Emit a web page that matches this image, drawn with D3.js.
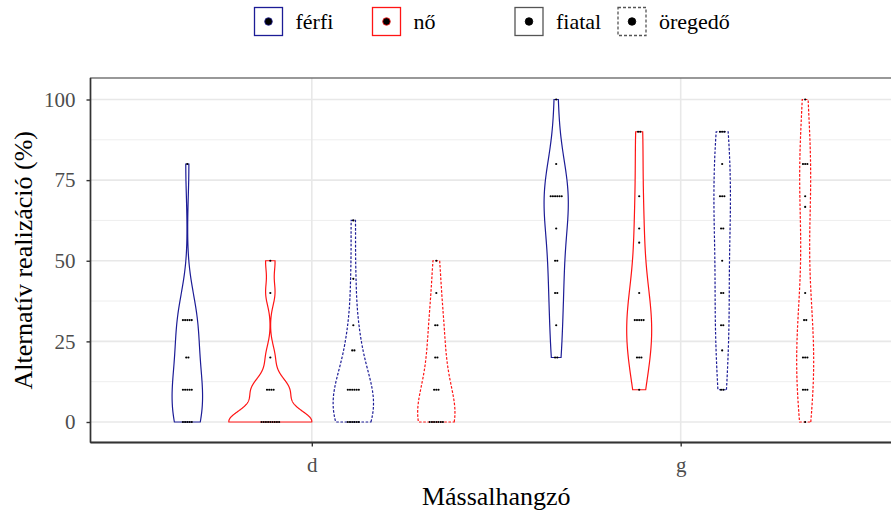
<!DOCTYPE html>
<html>
<head>
<script src="https://d3js.org/d3.v7.min.js"></script>
<style>
  body { margin: 0; background: #fff; }
  svg { display: block; font-family: "Liberation Serif", "Times New Roman", serif; }
</style>
</head>
<body>
<svg width="891" height="513"></svg>
<script>
const consonants = ["d", "g"];
const sexes = ["férfi", "nő"];
const ages = ["fiatal", "öregedő"];
const yTicks = [0, 25, 50, 75, 100];
const yMinor = [12.5, 37.5, 62.5, 87.5];

// speaker values (%), one array per consonant / sex / age
const dFerfiFiatal = [0, 0, 0, 0, 0, 10, 10, 10, 10, 10, 20, 20, 31.6, 31.6, 31.6, 31.6, 31.6, 80];
const dNoFiatal = [0, 0, 0, 0, 0, 0, 0, 0, 0, 10, 10, 10, 10, 20, 40, 50];
const dFerfiOreg = [0, 0, 0, 0, 0, 0, 10, 10, 10, 10, 10, 10, 22.2, 22.2, 30, 44.4, 62.5];
const dNoOreg = [0, 0, 0, 0, 0, 0, 0, 10, 10, 10, 20, 20, 30, 30, 40, 50];
const gFerfiFiatal = [20, 20, 30, 40, 40, 50, 50, 60, 70, 70, 70, 70, 70, 70, 80, 100];
const gNoFiatal = [10, 20, 20, 20, 31.6, 31.6, 31.6, 31.6, 31.6, 40, 55.6, 60, 70, 90, 90];
const gFerfiOreg = [10, 10, 22.2, 30, 30, 40, 40, 50, 60, 60, 70, 70, 70, 80, 90, 90, 90];
const gNoOreg = [0, 10, 10, 10, 20, 20, 20, 31.6, 31.6, 40, 66.7, 70, 80, 80, 80, 100];

const groups = [
  { cons: "d", sex: "férfi", age: "fiatal", values: dFerfiFiatal },
  { cons: "d", sex: "nő", age: "fiatal", values: dNoFiatal },
  { cons: "d", sex: "férfi", age: "öregedő", values: dFerfiOreg },
  { cons: "d", sex: "nő", age: "öregedő", values: dNoOreg },
  { cons: "g", sex: "férfi", age: "fiatal", values: gFerfiFiatal },
  { cons: "g", sex: "nő", age: "fiatal", values: gNoFiatal },
  { cons: "g", sex: "férfi", age: "öregedő", values: gFerfiOreg },
  { cons: "g", sex: "nő", age: "öregedő", values: gNoOreg }
];

const sexColor = { "férfi": "#1c1c96", "nő": "#ff1414" };
const ageDash = { "fiatal": null, "öregedő": "2.6,1.6" };

const svg = d3.select("svg");
const panel = { left: 90.5, top: 78, right: 902, bottom: 442.5 };

const x = d3.scalePoint(consonants, [panel.left, panel.right]).padding(0.6);
const dodgeKeys = [];
ages.forEach(a => sexes.forEach(s => dodgeKeys.push(s + "|" + a)));
const dodge = d3.scaleBand(dodgeKeys, [-0.45 * x.step(), 0.45 * x.step()]);
const y = d3.scaleLinear([0, 100], [422, 99.5]);

// kernel density like R's density(bw = "nrd0"), trimmed to data range
function bwNrd0(v) {
  const s = d3.sort(v);
  const sd = d3.deviation(s);
  const iqr = d3.quantileSorted(s, 0.75) - d3.quantileSorted(s, 0.25);
  let lo = Math.min(sd, iqr / 1.34);
  if (!lo) lo = sd || Math.abs(s[0]) || 1;
  return 0.9 * lo * Math.pow(s.length, -0.2);
}
function kde(v) {
  const bw = bwNrd0(v);
  const [lo, hi] = d3.extent(v);
  return d3.range(512).map(i => {
    const t = lo + (hi - lo) * i / 511;
    const dens = d3.sum(v, p => Math.exp(-0.5 * ((t - p) / bw) ** 2)) /
      (v.length * bw * Math.sqrt(2 * Math.PI));
    return { t, dens };
  });
}
groups.forEach(g => { g.curve = kde(g.values); });
const maxDens = d3.max(groups, g => d3.max(g.curve, c => c.dens));
const w = d3.scaleLinear([0, maxDens], [0, dodge.bandwidth() / 2]);

// grid
const grid = svg.append("g");
grid.selectAll(".minor").data(yMinor).join("line")
  .attr("x1", panel.left).attr("x2", panel.right)
  .attr("y1", d => y(d)).attr("y2", d => y(d))
  .attr("stroke", "#ececec").attr("stroke-width", 0.9);
grid.selectAll(".major").data(yTicks).join("line")
  .attr("x1", panel.left).attr("x2", panel.right)
  .attr("y1", d => y(d)).attr("y2", d => y(d))
  .attr("stroke", "#e8e8e8").attr("stroke-width", 1.6);
grid.selectAll(".vmajor").data(consonants).join("line")
  .attr("x1", d => x(d)).attr("x2", d => x(d))
  .attr("y1", panel.top).attr("y2", panel.bottom)
  .attr("stroke", "#e8e8e8").attr("stroke-width", 1.6);

const cx = g => x(g.cons) + dodge(g.sex + "|" + g.age) + dodge.bandwidth() / 2;

// violins
const area = d3.area()
  .y(c => y(c.t));
svg.append("g").selectAll("path").data(groups).join("path")
  .attr("d", g => area.x0(c => cx(g) - w(c.dens)).x1(c => cx(g) + w(c.dens))(g.curve))
  .attr("fill", "#fff")
  .attr("stroke", g => sexColor[g.sex])
  .attr("stroke-width", 1.2)
  .attr("stroke-dasharray", g => ageDash[g.age]);

// dots, stacked centred on each value
const dotD = 2.2;
const dots = [];
groups.forEach(g => {
  d3.rollups(g.values, v => v.length, v => v).forEach(([val, k]) => {
    for (let j = 0; j < k; j++) {
      dots.push({ x: cx(g) + (j - (k - 1) / 2) * dotD, y: y(val), sex: g.sex });
    }
  });
});
svg.append("g").selectAll("circle").data(dots).join("circle")
  .attr("cx", d => d.x).attr("cy", d => d.y).attr("r", dotD / 2)
  .attr("fill", "#000");

// panel border and axis lines
svg.append("rect")
  .attr("x", panel.left).attr("y", panel.top)
  .attr("width", panel.right - panel.left).attr("height", panel.bottom - panel.top)
  .attr("fill", "none").attr("stroke", "#555").attr("stroke-width", 1.2);
svg.append("line").attr("x1", panel.left).attr("x2", panel.right)
  .attr("y1", panel.bottom).attr("y2", panel.bottom)
  .attr("stroke", "#333").attr("stroke-width", 1.8);
svg.append("line").attr("x1", panel.left).attr("x2", panel.left)
  .attr("y1", panel.top).attr("y2", panel.bottom)
  .attr("stroke", "#333").attr("stroke-width", 1.6);

// axes
const yAxis = svg.append("g").attr("transform", `translate(${panel.left},0)`)
  .call(d3.axisLeft(y).tickValues(yTicks).tickSize(4).tickPadding(11));
const xAxis = svg.append("g").attr("transform", `translate(0,${panel.bottom})`)
  .call(d3.axisBottom(x).tickSize(4).tickPadding(11));
[yAxis, xAxis].forEach(a => {
  a.select(".domain").remove();
  a.selectAll(".tick line").attr("stroke", "#333").attr("stroke-width", 1.4);
  a.selectAll(".tick text").attr("fill", "#4d4d4d")
    .style("font-family", "Liberation Serif").style("font-size", "21px");
});

svg.append("text")
  .attr("x", (panel.left + panel.right) / 2).attr("y", 505)
  .attr("text-anchor", "middle").attr("font-size", 26)
  .style("font-family", "Liberation Serif")
  .text("Mássalhangzó");
svg.append("text")
  .attr("transform", `translate(32,${(panel.top + panel.bottom) / 2}) rotate(-90)`)
  .attr("text-anchor", "middle").attr("font-size", 26)
  .style("font-family", "Liberation Serif")
  .text("Alternatív realizáció (%)");

// legend
const legendItems = [
  { label: "férfi", stroke: sexColor["férfi"], dash: null, dot: sexColor["férfi"], x: 254.5 },
  { label: "nő", stroke: sexColor["nő"], dash: null, dot: sexColor["nő"], x: 372.5 },
  { label: "fiatal", stroke: "#555", dash: null, dot: "#000", x: 515 },
  { label: "öregedő", stroke: "#555", dash: "3,2", dot: "#000", x: 618 }
];
const leg = svg.append("g").selectAll("g").data(legendItems).join("g")
  .attr("transform", d => `translate(${d.x},7.5)`);
leg.append("rect").attr("width", 28).attr("height", 28)
  .attr("fill", "#fff").attr("stroke", d => d.stroke).attr("stroke-width", 1.3)
  .attr("stroke-dasharray", d => d.dash);
leg.append("circle").attr("cx", 14).attr("cy", 14).attr("r", 3.8)
  .attr("fill", "#000").attr("stroke", d => d.dot).attr("stroke-width", 0.8);
leg.append("text").attr("x", 41).attr("y", 21).attr("font-size", 22)
  .style("font-family", "Liberation Serif")
  .text(d => d.label);
</script>
</body>
</html>
